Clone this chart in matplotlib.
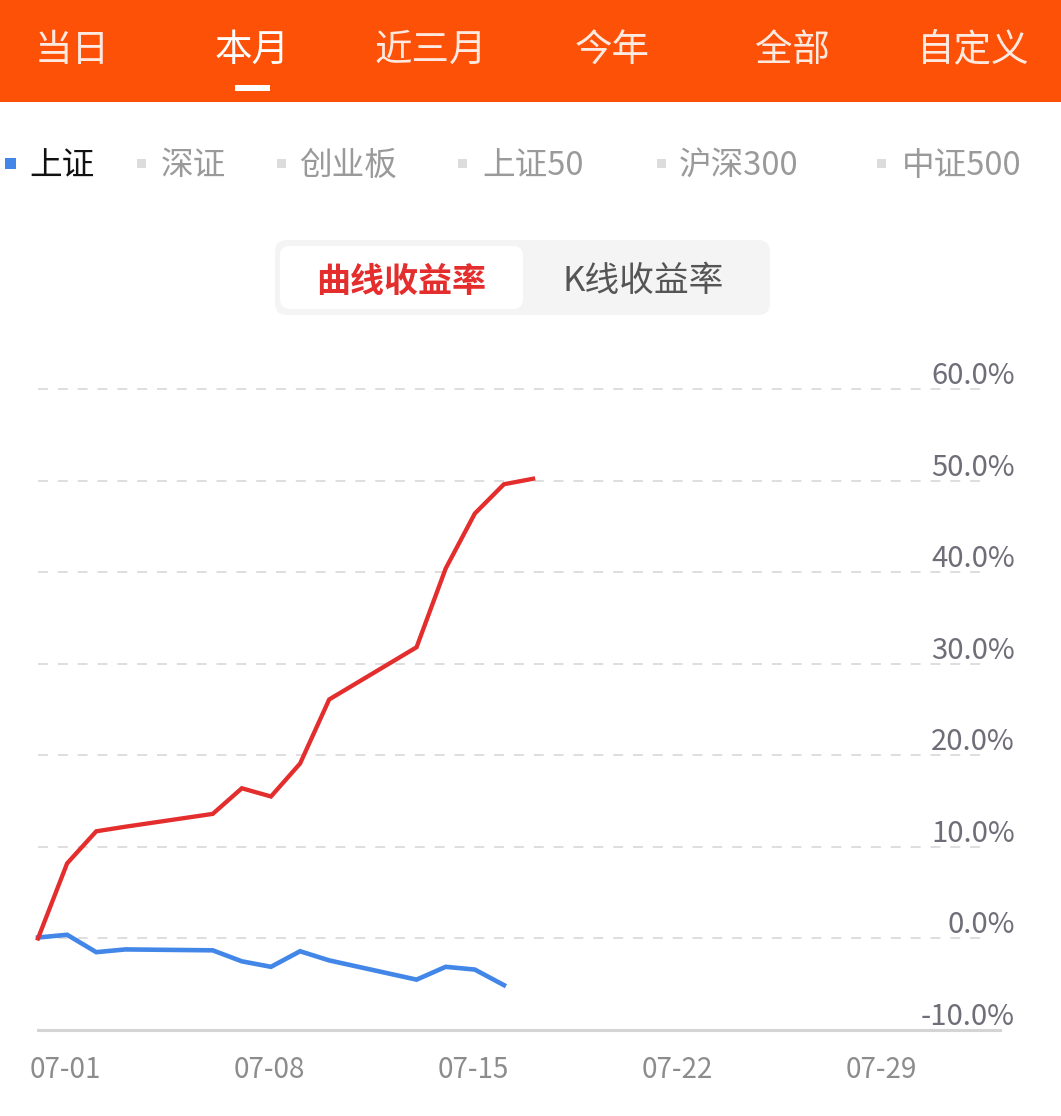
import matplotlib
matplotlib.use("Agg")
import matplotlib.pyplot as plt
from matplotlib.patches import Rectangle, FancyBboxPatch
from matplotlib import transforms

plt.rcParams["font.family"] = ["Noto Sans CJK SC", "DejaVu Sans"]

W, H = 1061, 1116

# ---- data ----
tabs = ["当日", "本月", "近三月", "今年", "全部", "自定义"]
tab_selected = 1
indices = ["上证", "深证", "创业板", "上证50", "沪深300", "中证500"]
index_selected = 0
modes = ["曲线收益率", "K线收益率"]

trade_dates = ["07-01", "07-02", "07-03", "07-04", "07-07", "07-08", "07-09",
               "07-10", "07-11", "07-14", "07-15", "07-16", "07-17", "07-18"]
curve_return = [0.0, 8.2, 11.7, 12.2, 13.6, 16.4, 15.5, 19.1, 26.1, 31.8,
                40.4, 46.4, 49.6, 50.2]
sh_dates = trade_dates[:-1]
sh_return = [0.1, 0.4, -1.5, -1.2, -1.3, -2.5, -3.1, -1.4, -2.4, -4.5,
             -3.1, -3.4, -5.1]
xtick_dates = ["07-01", "07-08", "07-15", "07-22", "07-29"]
ytick_vals = [-10, 0, 10, 20, 30, 40, 50, 60]


def day(d):
    return int(d.split("-")[1]) - 1


ORANGE = "#FE5108"
RED = "#E42D2D"
BLUE = "#4286E8"

fig = plt.figure(figsize=(W / 100, H / 100), dpi=100)

# background layer in pixel coordinates
bg = fig.add_axes([0, 0, 1, 1], zorder=0)
bg.set_xlim(0, W)
bg.set_ylim(H, 0)
bg.axis("off")

# header bar with tabs
bg.add_patch(Rectangle((0, 0), W, 102, color=ORANGE, lw=0))
tab_x = [72, 252, 431, 612, 792, 973]
for i, (name, x) in enumerate(zip(tabs, tab_x)):
    sel = i == tab_selected
    bg.text(x, 50, name, ha="center", va="center", fontsize=27,
            color="white", alpha=1.0 if sel else 0.88)
bg.add_patch(Rectangle((235, 85), 35, 6, color="white", lw=0))

# index selector row
sq_x = [10, 141, 281, 462, 661, 881]
txt_x = [29, 161, 299, 482, 679, 902]
for i, (name, sx, tx) in enumerate(zip(indices, sq_x, txt_x)):
    sel = i == index_selected
    s = 11 if sel else 9
    bg.add_patch(Rectangle((sx - s / 2, 163 - s / 2), s, s, lw=0,
                           color=BLUE if sel else "#dcdcdc"))
    bg.text(tx, 166, name, ha="left", va="center", fontsize=23.5,
            color="#111111" if sel else "#9a9a9a")

# mode toggle
bg.add_patch(FancyBboxPatch((275, 240), 495, 75,
                            boxstyle="round,pad=0,rounding_size=12",
                            fc="#f4f4f4", ec="none"))
bg.add_patch(FancyBboxPatch((280, 246), 243, 63,
                            boxstyle="round,pad=0,rounding_size=10",
                            fc="white", ec="none"))
bg.text(401, 281, modes[0], ha="center", va="center", fontsize=24.5,
        color=RED, fontweight="bold")
bg.text(643, 281, modes[1], ha="center", va="center", fontsize=25,
        color="#555555")

# ---- chart ----
px_per_day = 29.12
x_right = (1000 - 38) / px_per_day
ax = fig.add_axes([38 / W, (H - 1030) / H, 962 / W, 660 / H], zorder=1)
ax.patch.set_alpha(0)
ax.set_xlim(0, x_right)
ax.set_ylim(-10, -10 + 660 / 9.157)

for s in ["top", "left", "right"]:
    ax.spines[s].set_visible(False)
ax.spines["bottom"].set_color("#d4d4d4")
ax.spines["bottom"].set_linewidth(2.2)
ax.set_xticks([])
ax.set_yticks([])

grid_end = (990 - 38) / px_per_day
for v in ytick_vals:
    if v > -10:
        ax.plot([0, grid_end], [v, v], color="#dedede", lw=1.4,
                ls=(0, (5.1, 5.1)), zorder=1)

ax.plot([day(d) for d in sh_dates], sh_return, color=BLUE, lw=3.3,
        solid_joinstyle="miter", zorder=3, clip_on=False)
ax.plot([day(d) for d in trade_dates], curve_return, color=RED, lw=3.1,
        solid_joinstyle="miter", zorder=4, clip_on=False)

# y labels: right aligned, sitting just above each grid line
ytrans = transforms.blended_transform_factory(ax.transAxes, ax.transData)
yoff = transforms.ScaledTranslation(0, 5 / 100, fig.dpi_scale_trans)
for v in ytick_vals:
    ax.text((1015 - 38) / 962, v, f"{v:.1f}%", transform=ytrans + yoff,
            ha="right", va="baseline", fontsize=21, color="#6e6e78",
            clip_on=False)

# x labels: left aligned slightly before the date position
xtrans = transforms.blended_transform_factory(ax.transData, ax.transAxes)
xoff = transforms.ScaledTranslation(-8 / 100, 0, fig.dpi_scale_trans)
for d in xtick_dates:
    ax.text(day(d), -40 / 660, d, transform=xtrans + xoff, ha="left",
            va="center", fontsize=20, color="#8c8c8c", clip_on=False)

fig.savefig("out.png", dpi=100)
